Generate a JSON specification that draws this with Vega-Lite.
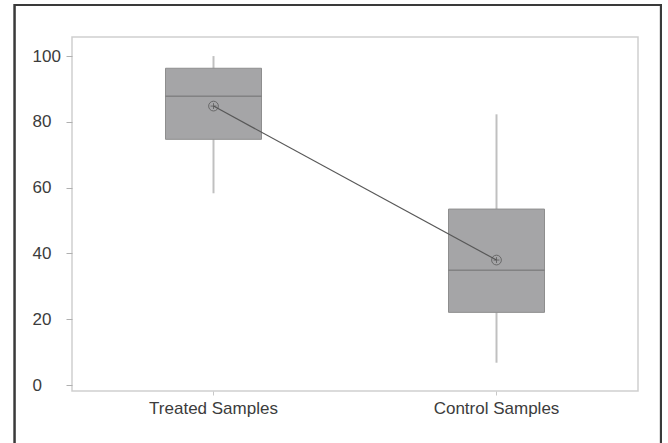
{
  "$schema": "https://vega.github.io/schema/vega-lite/v6.json",
  "width": 566,
  "height": 354,
  "autosize": "none",
  "padding": {"left": 72, "top": 37, "right": 30, "bottom": 52},
  "background": "#ffffff",
  "data": {
    "values": [
      {"group": "Treated Samples", "lower": 58.3, "q1": 74.7, "median": 87.8, "q3": 96.3, "upper": 100, "mean": 84.8},
      {"group": "Control Samples", "lower": 6.8, "q1": 22.1, "median": 34.9, "q3": 53.5, "upper": 82.3, "mean": 38.0}
    ]
  },
  "encoding": {
    "x": {
      "field": "group",
      "type": "nominal",
      "sort": null,
      "scale": {"type": "band", "paddingInner": 0, "paddingOuter": 0},
      "axis": {
        "title": null,
        "domain": false,
        "grid": false,
        "ticks": true,
        "tickSize": 4,
        "tickColor": "#c8c8c8",
        "labelAngle": 0,
        "labelPadding": 5,
        "labelFont": "Liberation Sans",
        "labelFontSize": 17,
        "labelColor": "#3c3c3c"
      }
    }
  },
  "layer": [
    {
      "mark": {"type": "rect", "fill": null, "stroke": "#3a3a3a", "strokeWidth": 2},
      "encoding": {
        "x": {"datum": "Treated Samples", "bandPosition": -0.203},
        "x2": {"datum": "Control Samples", "bandPosition": 1.081},
        "y": {"datum": 115.5, "type": "quantitative"},
        "y2": {"datum": -20}
      }
    },
    {
      "mark": {"type": "rule", "color": "#c0c0c0", "strokeWidth": 2},
      "encoding": {
        "y": {
          "field": "lower",
          "type": "quantitative",
          "scale": {"domain": [-1.8, 105.8], "nice": false, "zero": false},
          "axis": {
            "title": null,
            "grid": false,
            "domain": false,
            "values": [0, 20, 40, 60, 80, 100],
            "tickSize": 6,
            "tickColor": "#b0b0b0",
            "labelAlign": "left",
            "labelPadding": 34,
            "labelFont": "Liberation Sans",
            "labelFontSize": 17,
            "labelColor": "#3c3c3c"
          }
        },
        "y2": {"field": "upper"}
      }
    },
    {
      "mark": {"type": "bar", "size": 96, "color": "#a5a5a7", "stroke": "#8e8e8e", "strokeWidth": 1},
      "encoding": {
        "y": {"field": "q1", "type": "quantitative"},
        "y2": {"field": "q3"}
      }
    },
    {
      "mark": {"type": "tick", "size": 96, "thickness": 1.5, "color": "#737373", "orient": "horizontal"},
      "encoding": {
        "y": {"field": "median", "type": "quantitative"}
      }
    },
    {
      "mark": {"type": "line", "color": "#585858", "strokeWidth": 1.2},
      "encoding": {
        "y": {"field": "mean", "type": "quantitative"}
      }
    },
    {
      "mark": {"type": "point", "shape": "circle", "filled": false, "size": 95, "stroke": "#505050", "strokeWidth": 1},
      "encoding": {
        "y": {"field": "mean", "type": "quantitative"}
      }
    },
    {
      "mark": {"type": "point", "shape": "M-0.6,0H0.6M0,-0.6V0.6", "filled": false, "size": 95, "stroke": "#505050", "strokeWidth": 1},
      "encoding": {
        "y": {"field": "mean", "type": "quantitative"}
      }
    }
  ],
  "config": {
    "view": {"stroke": "#cfcfcf", "strokeWidth": 1.5}
  }
}
